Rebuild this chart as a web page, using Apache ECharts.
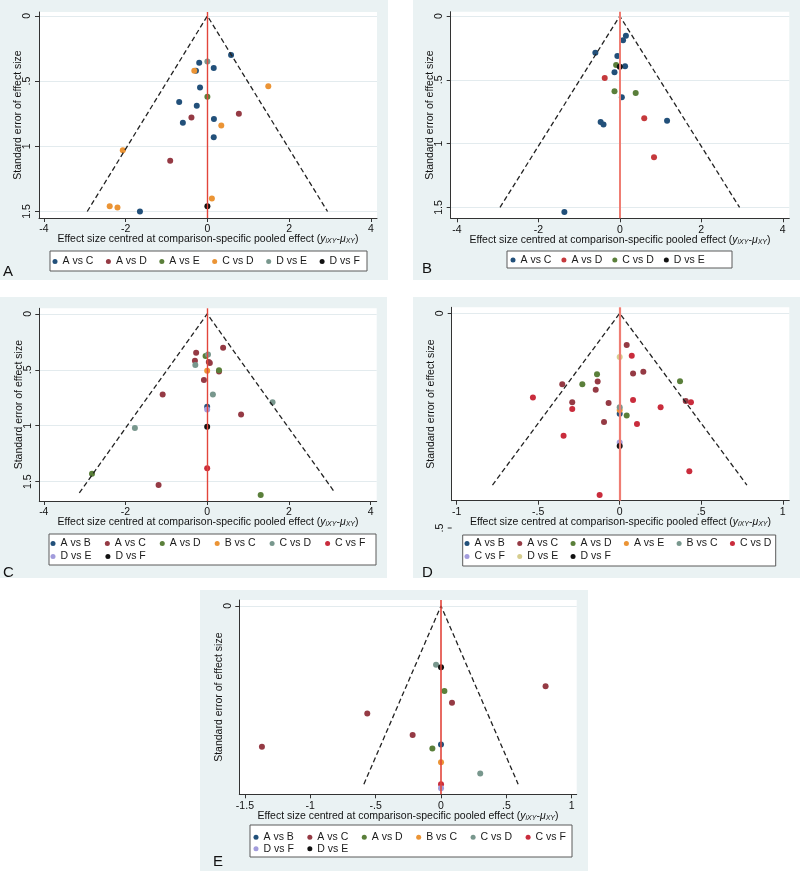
<!DOCTYPE html>
<html>
<head>
<meta charset="utf-8">
<title>Comparison-adjusted funnel plots</title>
<script src="https://cdn.jsdelivr.net/npm/echarts@6.0.0/dist/echarts.min.js"></script>
<style>
  html, body { margin: 0; padding: 0; background: #fff; overflow: hidden; }
  .panel { position: absolute; }
</style>
</head>
<body>
<div id="pA" class="panel" style="left:0;top:0;width:388px;height:280px"></div>
<div id="pB" class="panel" style="left:413px;top:0;width:387px;height:280px"></div>
<div id="pC" class="panel" style="left:0;top:297px;width:387px;height:281px"></div>
<div id="pD" class="panel" style="left:413px;top:297px;width:387px;height:281px"></div>
<div id="pE" class="panel" style="left:200px;top:590px;width:388px;height:281px"></div>
<script>
// tick values
var xTicksWide = [-4, -2, 0, 2, 4];
var yTicksWide = [0, 0.5, 1, 1.5];
var xTicksD = [-1, -0.5, 0, 0.5, 1];
var xTicksE = [-1.5, -1, -0.5, 0, 0.5, 1];
var yTicksNarrow = [0];

// pseudo 95% limits (x, se)
var funnelA = [[-2.94, 1.5], [0, 0], [2.94, 1.5]];
var funnelB = [[-2.94, 1.5], [0, 0], [2.94, 1.5]];
var funnelC = [[-3.13, 1.6], [0, 0], [3.13, 1.6]];
var funnelD = [[-0.78, 0.4], [0, 0], [0.78, 0.4]];
var funnelE = [[-0.59, 0.3], [0, 0], [0.59, 0.3]];

// panel A
var namesA = ['A vs C', 'A vs D', 'A vs E', 'C vs D', 'D vs E', 'D vs F'];
var pointsA = [
  [[0.58, 0.30], [-0.20, 0.36], [-0.28, 0.42], [0.155, 0.40], [-0.18, 0.55], [-0.69, 0.66],
   [-0.26, 0.69], [-0.60, 0.82], [0.16, 0.79], [0.155, 0.93], [-1.65, 1.50]],
  [[-0.39, 0.78], [0.77, 0.75], [-0.91, 1.11]],
  [[0, 0.62]],
  [[-0.32, 0.42], [1.49, 0.54], [0.34, 0.84], [-2.07, 1.03], [0.11, 1.40], [-2.39, 1.46], [-2.20, 1.47]],
  [[0, 0.35]],
  [[0, 1.46]]
];

// panel B
var namesB = ['A vs C', 'A vs D', 'C vs D', 'D vs E'];
var pointsB = [
  [[0.15, 0.154], [0.08, 0.19], [-0.60, 0.287], [-0.06, 0.313], [0.13, 0.394], [-0.13, 0.44],
   [0.05, 0.637], [-0.47, 0.83], [-0.40, 0.85], [1.16, 0.82], [-1.36, 1.535]],
  [[-0.37, 0.486], [0.60, 0.80], [0.84, 1.107]],
  [[-0.09, 0.384], [-0.13, 0.59], [0.39, 0.603]],
  [[0, 0.397]]
];

// panel C
var namesC = ['A vs B', 'A vs C', 'A vs D', 'B vs C', 'C vs D', 'C vs F', 'D vs E', 'D vs F'];
var pointsC = [
  [[0, 0.83]],
  [[-0.27, 0.347], [0.39, 0.303], [-0.30, 0.42], [0.04, 0.43], [0.065, 0.44], [-0.08, 0.59],
   [-1.09, 0.72], [0.83, 0.90], [-1.19, 1.53], [0.29, 0.515]],
  [[-0.04, 0.377], [0.29, 0.505], [-2.82, 1.43], [1.31, 1.62]],
  [[0, 0.508]],
  [[0.02, 0.362], [-0.29, 0.457], [0.14, 0.72], [1.60, 0.79], [-1.77, 1.02]],
  [[0, 1.38]],
  [[0, 0.855]],
  [[0, 1.01]]
];

// panel D
var namesD = ['A vs B', 'A vs C', 'A vs D', 'A vs E', 'B vs C', 'C vs D', 'C vs F', 'D vs E', 'D vs F'];
var pointsD = [
  [[0, 0.234]],
  [[-0.352, 0.165], [-0.135, 0.159], [-0.147, 0.178], [-0.291, 0.207], [-0.068, 0.209],
   [-0.096, 0.253], [0.043, 0.074], [0.082, 0.140], [0.145, 0.136], [0.405, 0.204]],
  [[-0.139, 0.142], [-0.229, 0.165], [0.043, 0.238], [0.37, 0.158]],
  [[0, 0.225]],
  [[0, 0.219]],
  [[-0.532, 0.196], [-0.291, 0.223], [0.082, 0.202], [0.106, 0.258], [-0.344, 0.285],
   [0.074, 0.099], [-0.123, 0.423], [0.251, 0.219], [0.437, 0.207], [0.427, 0.368]],
  [[0, 0.301]],
  [[0, 0.102]],
  [[0, 0.309]]
];

// panel E
var namesE = ['A vs B', 'A vs C', 'A vs D', 'B vs C', 'C vs D', 'C vs F', 'D vs F', 'D vs E'];
var pointsE = [
  [[0, 0.233]],
  [[0.80, 0.135], [0.084, 0.163], [-0.564, 0.181], [-0.217, 0.217], [-1.37, 0.237]],
  [[0.026, 0.143], [-0.066, 0.240]],
  [[0, 0.263]],
  [[-0.038, 0.099], [0.30, 0.282]],
  [[0, 0.300]],
  [[0, 0.307]],
  [[0, 0.103]]
];

// Stata s2color-like marker colours
var navy = '#22507a', maroon = '#953a44', green = '#5a7f3a', orange = '#eb9435',
    teal = '#78978d', cranberry = '#c92c3c', lavender = '#a29cdc', khaki = '#d6cd8e', black = '#111';

var FONT = 'Liberation Sans, Arial, sans-serif';
var xTitle = 'Effect size centred at comparison-specific pooled effect ({i|y}{s|iXY}-{i|\u03bc}{s|XY})';

function fmt(v) { return String(v).replace('0.', '.'); }

function drawPanel(cfg, names, points, funnel, xTicks, yTicks) {
  var chart = echarts.init(document.getElementById(cfg.el));
  var g = cfg.grid;

  var series = [{
    type: 'line',
    data: funnel,
    symbol: 'none',
    silent: true,
    lineStyle: { color: '#222', width: 1.3, type: [5, 3] },
    markLine: {
      silent: true, symbol: 'none', label: { show: false },
      lineStyle: { color: cfg.vColor, width: cfg.vWidth, type: 'solid' },
      data: [{ xAxis: 0 }]
    }
  }];
  names.forEach(function (n, i) {
    series.push({
      name: n, type: 'scatter', data: points[i], symbolSize: 6,
      itemStyle: { color: cfg.colors[i], opacity: 1 }
    });
  });

  // one legend per row so row spacing and column pitch can differ
  var legends = [];
  cfg.rows.forEach(function (r, k) {
    legends.push({
      left: cfg.legendLeft, top: r - 5, padding: 0, orient: 'horizontal',
      itemGap: cfg.legendGap, itemWidth: 5, itemHeight: 5, icon: 'circle',
      selectedMode: false,
      textStyle: { fontSize: 10.5, lineHeight: 10, color: '#1a1a1a', fontFamily: FONT },
      data: names.slice(k * 6, k * 6 + 6)
    });
  });

  var graphic = [
    { type: 'rect', z: 0, shape: { x: cfg.box[0], y: cfg.box[1], width: cfg.box[2], height: cfg.box[3] },
      style: { fill: '#fff', stroke: '#5a5a5a', lineWidth: 1 } },
    { type: 'text', left: cfg.letter[1], top: cfg.letter[2],
      style: { text: cfg.letter[0], font: '15px ' + FONT, fill: '#111' } }
  ];
  if (cfg.extra) graphic = graphic.concat(cfg.extra);

  chart.setOption({
    animation: false,
    backgroundColor: '#eaf2f3',
    textStyle: { fontFamily: FONT },
    grid: { left: g[0], top: g[1], width: g[2], height: g[3], show: true,
            containLabel: false, outerBoundsMode: 'none',
            backgroundColor: '#fff', borderWidth: 0 },
    xAxis: {
      type: 'value', min: cfg.x[0], max: cfg.x[1],
      name: xTitle, nameLocation: 'middle', nameGap: 16, nameMoveOverlap: false,
      nameTextStyle: { fontSize: 10.5, color: '#111', fontFamily: FONT,
        rich: {
          i: { fontSize: 10.5, fontStyle: 'italic', color: '#111', fontFamily: FONT },
          s: { fontSize: 7, fontStyle: 'italic', color: '#111', fontFamily: FONT, padding: [4, 0, 0, 0] }
        } },
      axisLine: { show: true, onZero: false, lineStyle: { color: '#333', width: 1 } },
      axisTick: { show: true, length: 4, customValues: xTicks, lineStyle: { color: '#333' } },
      axisLabel: { customValues: xTicks, formatter: fmt, fontSize: 10.5, color: '#111', margin: 6 },
      splitLine: { show: false }
    },
    yAxis: {
      type: 'value', inverse: true, min: cfg.y[0], max: cfg.y[1],
      name: 'Standard error of effect size', nameLocation: 'middle', nameGap: 15, nameMoveOverlap: false,
      nameTextStyle: { fontSize: 10.5, color: '#111', fontFamily: FONT },
      axisLine: { show: true, onZero: false, lineStyle: { color: '#333', width: 1 } },
      axisTick: { show: true, length: 4, customValues: yTicks, lineStyle: { color: '#333' } },
      axisLabel: { customValues: yTicks, formatter: fmt, rotate: 90, fontSize: 10.5, color: '#111', margin: 6 },
      splitLine: { show: true, lineStyle: { color: '#e3ebee', width: 1 } }
    },
    legend: legends,
    graphic: graphic,
    series: series
  });
}

drawPanel({
  el: 'pA', grid: [39, 12, 338, 206], x: [-4.12, 4.15], y: [-0.03, 1.55],
  colors: [navy, maroon, green, orange, teal, black],
  vColor: '#e2453b', vWidth: 1.4,
  box: [50, 251, 317, 20], legendLeft: 52.5, legendGap: 12.5, rows: [261],
  letter: ['A', 3, 264]
}, namesA, pointsA, funnelA, xTicksWide, yTicksWide);

drawPanel({
  el: 'pB', grid: [37.7, 11.7, 338.6, 206.6], x: [-4.15, 4.16], y: [-0.034, 1.585],
  colors: [navy, '#c5393c', green, black],
  vColor: '#ef7d73', vWidth: 2,
  box: [94, 251, 225, 17], legendLeft: 97.5, legendGap: 10, rows: [259.5],
  letter: ['B', 9, 261.5]
}, namesB, pointsB, funnelB, xTicksWide, yTicksWide);

drawPanel({
  el: 'pC', grid: [39.3, 11.3, 337.4, 192.7], x: [-4.11, 4.15], y: [-0.05, 1.673],
  colors: [navy, maroon, green, orange, teal, cranberry, lavender, black],
  vColor: '#e2453b', vWidth: 1.4,
  box: [49, 237, 327, 31], legendLeft: 50.5, legendGap: 14, rows: [246, 259],
  letter: ['C', 3, 268]
}, namesC, pointsC, funnelC, xTicksWide, yTicksWide);

drawPanel({
  el: 'pD', grid: [38.7, 10.3, 337.6, 193.4], x: [-1.03, 1.04], y: [-0.014, 0.4365],
  colors: [navy, maroon, green, orange, teal, cranberry, lavender, khaki, black],
  vColor: '#ef7d73', vWidth: 2.2,
  box: [49.7, 238, 313, 31], legendLeft: 51.5, legendGap: 12.4, rows: [246, 259],
  letter: ['D', 9, 268.5],
  extra: [
    { type: 'text', x: 27, y: 231, rotation: Math.PI / 2,
      style: { text: '.5', font: '10.5px ' + FONT, fill: '#111', align: 'center', verticalAlign: 'middle' } },
    { type: 'line', shape: { x1: 34.7, y1: 231, x2: 38.7, y2: 231 }, style: { stroke: '#333', lineWidth: 1 } }
  ]
}, namesD, pointsD, funnelD, xTicksD, yTicksNarrow);

drawPanel({
  el: 'pE', grid: [39.3, 10, 337.4, 194.3], x: [-1.543, 1.038], y: [-0.01, 0.317],
  colors: [navy, maroon, green, orange, teal, cranberry, lavender, black],
  vColor: '#e2453b', vWidth: 1.6,
  box: [50, 235, 322, 32], legendLeft: 53.5, legendGap: 13.5, rows: [246.7, 258.3],
  letter: ['E', 13, 264.5]
}, namesE, pointsE, funnelE, xTicksE, yTicksNarrow);
</script>
</body>
</html>
